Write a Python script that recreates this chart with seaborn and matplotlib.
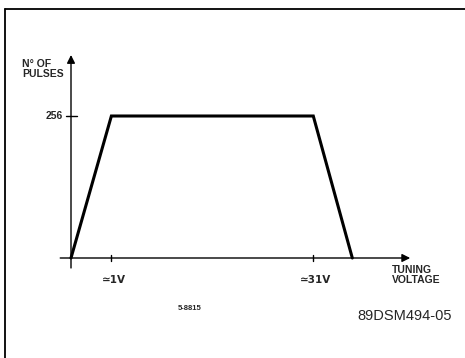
import matplotlib
matplotlib.use("Agg")
import matplotlib.pyplot as plt
import seaborn as sns
import pandas as pd

# schematic transfer curve (x in schematic units, ticks labelled in volts)
volt_pos = [0, 6, 36, 41.8]
pulses = [0, 256, 256, 0]
xtick_pos = [6, 36]
xtick_labels = ["\u22431V", "\u224331V"]
ytick_pos = [256]
ytick_labels = ["256"]

df = pd.DataFrame({"voltage": volt_pos, "pulses": pulses})

sns.set_style("white")
plt.rcParams["font.family"] = ["Liberation Sans", "DejaVu Sans"]

W, H = 465, 358
fig = plt.figure(figsize=(W / 100, H / 100), dpi=100)
ax = fig.add_axes([0, 0, 1, 1])
ax.set_axis_off()

# pixel mapping: x=0 -> 71px, y=0 -> 258px from top, 256 -> 116px
sx = 6.73
sy = 142 / 256
ax.set_xlim(-71 / sx, (W - 71) / sx)
ax.set_ylim(-(H - 258) / sy, 258 / sy)


def fx(px):
    return px / W


def fy(py):
    return 1 - py / H


sns.lineplot(data=df, x="voltage", y="pulses", ax=ax, color="black",
             lw=2.2, sort=False, solid_joinstyle="miter")

# axes with arrows
ax.annotate("", xy=(50.4, 0), xytext=(-1.6, 0),
            arrowprops=dict(arrowstyle="-|>", color="black", lw=1.0,
                            mutation_scale=12, shrinkA=0, shrinkB=0))
ax.annotate("", xy=(0, 366), xytext=(0, -18),
            arrowprops=dict(arrowstyle="-|>", color="black", lw=1.0,
                            mutation_scale=12, shrinkA=0, shrinkB=0))

# ticks
for xp in xtick_pos:
    ax.plot([xp, xp], [-5, 5], color="black", lw=1.0)
for yp in ytick_pos:
    ax.plot([-0.7, 0.9], [yp, yp], color="black", lw=1.0)

for xp, lab in zip(xtick_pos, xtick_labels):
    ax.text(xp + 0.3, -40, lab, ha="center", va="center", fontsize=7.5,
            fontweight="bold", family=["DejaVu Sans Condensed", "DejaVu Sans"])
for yp, lab in zip(ytick_pos, ytick_labels):
    ax.text(-1.2, yp, lab, ha="right", va="center", fontsize=7.5,
            fontweight="bold")

fig.text(fx(22), fy(69), "N\u00b0 OF\nPULSES", ha="left", va="center",
         fontsize=7.5, fontweight="bold", linespacing=1.0)
fig.text(fx(392), fy(275), "TUNING\nVOLTAGE", ha="left", va="center",
         fontsize=7.5, fontweight="bold", linespacing=1.0)
fig.text(fx(190), fy(308), "5-8815", ha="center", va="center",
         fontsize=5.5, fontweight="bold")
fig.text(fx(405), fy(316), "89DSM494-05", ha="center", va="center",
         fontsize=10.5)

# frame lines (top and left)
fig.add_artist(plt.Line2D([fx(5), 1], [fy(9), fy(9)], color="black", lw=1.3))
fig.add_artist(plt.Line2D([fx(5), fx(5)], [fy(9), 0], color="black", lw=1.3))

fig.savefig("out.png", dpi=100)
